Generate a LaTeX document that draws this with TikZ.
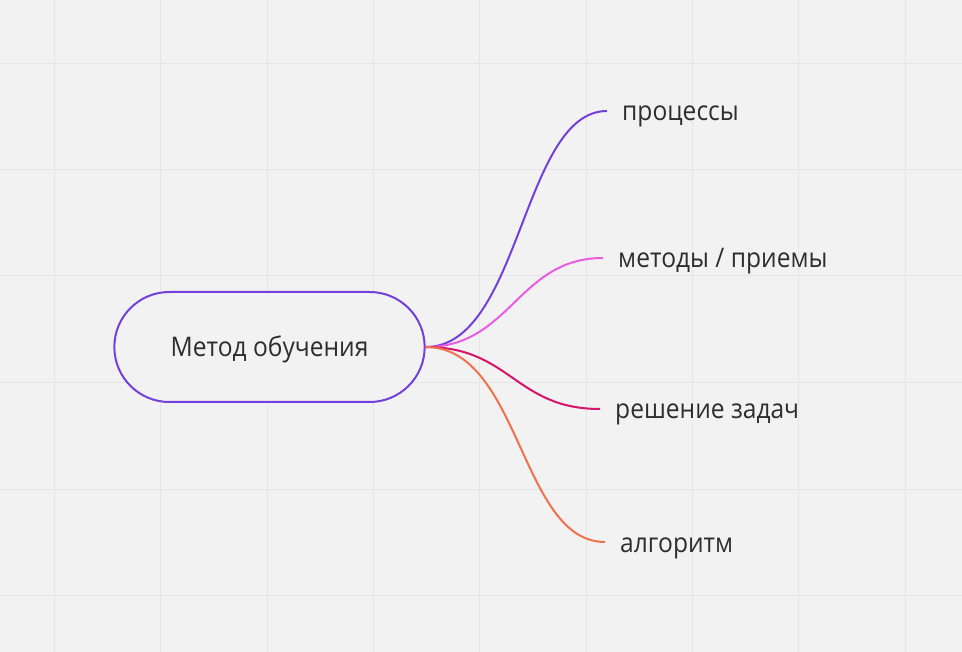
\documentclass[tikz,border=0pt]{standalone}
\usepackage{fontspec}
\setmainfont{Open Sans}[FakeStretch=0.91]
\usetikzlibrary{shapes.misc}

\definecolor{canvas}{HTML}{F2F2F2}
\definecolor{gridline}{HTML}{E6E6E6}
\definecolor{inktext}{HTML}{2E2E2E}
\definecolor{violetline}{HTML}{7440DC}
\definecolor{pinkline}{HTML}{EA5CE2}
\definecolor{crimsonline}{HTML}{D5146A}
\definecolor{orangeline}{HTML}{F0714B}

\tikzset{
  rootbox/.style={draw=violetline, line width=2pt, rounded rectangle, fill=canvas,
    minimum width=317pt, minimum height=110pt, text=inktext, text height=20pt, text depth=0pt,
    font=\fontsize{27}{30}\selectfont},
  leaf/.style={anchor=west, inner xsep=15pt, inner ysep=2pt, text=inktext,
    text height=20pt, text depth=0pt, font=\fontsize{27}{30}\selectfont},
  branch/.style={line width=2pt}
}

\begin{document}
\begin{tikzpicture}[x=1pt,y=-1pt]
\fill [canvas](0,0) rectangle (962,652);
\useasboundingbox (0,0) rectangle (962,652);

% grid
\foreach \gx in {54,160,267,373,479,586,692,798,905}
  \draw [gridline, line width=1pt] (\gx,0) -- (\gx,652);
\foreach \gy in {64,170,276,383,489,595}
  \draw [gridline, line width=1pt] (0,\gy) -- (962,\gy);

\node [rootbox] (method) at (269.5,347) {Метод обучения};

\node [leaf] (proc) at (607,111) {процессы};
\node [leaf] (ways) at (603,258) {методы / приемы};
\node [leaf] (tasks) at (600,409) {решение задач};
\node [leaf] (algo) at (605,542) {алгоритм};

\draw [branch, violetline] (method.east) .. controls +(95,0) and +(-85,0) .. (proc.west);
\draw [branch, pinkline] (method.east) .. controls +(85,0) and +(-85,0) .. (ways.west);
\draw [branch, crimsonline] (method.east) .. controls +(85,0) and +(-85,0) .. (tasks.west);
\draw [branch, orangeline] (method.east) .. controls +(95,0) and +(-85,0) .. (algo.west);

\end{tikzpicture}
\end{document}
